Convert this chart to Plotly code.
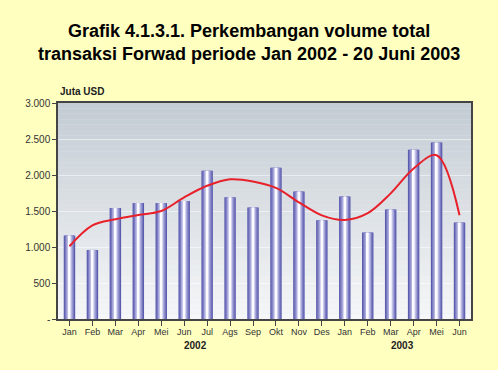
import plotly.graph_objects as go

months = ["Jan", "Feb", "Mar", "Apr", "Mei", "Jun", "Jul", "Ags", "Sep", "Okt", "Nov", "Des",
          "Jan", "Feb", "Mar", "Apr", "Mei", "Jun"]
years = ["2002"] * 12 + ["2003"] * 6
volume = [1160, 960, 1540, 1610, 1610, 1640, 2060, 1690, 1550, 2100, 1770, 1370,
          1700, 1200, 1520, 2350, 2450, 1340]
trend = [1010, 1300, 1385, 1445, 1500, 1690, 1850, 1940, 1910, 1820, 1620, 1440,
         1375, 1470, 1745, 2090, 2275, 1440]
y_ticks = [0, 500, 1000, 1500, 2000, 2500, 3000]
y_ticktext = ["-", "500", "1.000", "1.500", "2.000", "2.500", "3.000"]

x = list(range(len(months)))
FONT = "Liberation Sans, Arial, sans-serif"

fig = go.Figure()

# cylinder-like bars: layered bars of decreasing width
layers = [(0.50, "#5C5CAE"), (0.40, "#7C7CC2"), (0.28, "#A8A8DA"), (0.16, "#D6D6F0"), (0.07, "#FAFAFF")]
for w, c in layers:
    fig.add_trace(go.Bar(x=x, y=volume, width=w, marker=dict(color=c, line=dict(width=0)),
                         hoverinfo="skip", showlegend=False))

fig.add_trace(go.Scatter(x=x, y=trend, mode="lines", line=dict(color="#E8202A", width=2, shape="spline", smoothing=1.0),
                         showlegend=False))

# gradient plot background
n = 40
top = (196, 204, 212)
bot = (246, 247, 248)
shapes = []
for i in range(n):
    t = i / (n - 1)
    r = int(top[0] + (bot[0] - top[0]) * t)
    g = int(top[1] + (bot[1] - top[1]) * t)
    b = int(top[2] + (bot[2] - top[2]) * t)
    shapes.append(dict(type="rect", xref="x domain", yref="y domain", x0=0, x1=1,
                       y0=1 - (i + 1) / n, y1=1 - i / n, fillcolor=f"rgb({r},{g},{b})",
                       line=dict(width=0), layer="below"))

annotations = [
    dict(text="<b>Grafik 4.1.3.1. Perkembangan volume total<br>transaksi Forwad periode Jan 2002 - 20 Juni 2003</b>",
         xref="paper", yref="paper", x=0.4625, y=1, xanchor="center", yanchor="bottom", showarrow=False,
         font=dict(family=FONT, size=18, color="#000000"), yshift=37, align="center"),
    dict(text="<b>Juta USD</b>", xref="paper", yref="paper", x=0, y=1, xanchor="left", yanchor="bottom",
         showarrow=False, font=dict(family=FONT, size=10, color="#222222"), yshift=4),
]
# year labels centered under their groups
for yr in ["2002", "2003"]:
    idx = [i for i, v in enumerate(years) if v == yr]
    annotations.append(dict(text=f"<b>{yr}</b>", x=sum(idx) / len(idx), xref="x", yref="paper", y=0,
                            yanchor="top", showarrow=False, yshift=-19,
                            font=dict(family=FONT, size=10, color="#222222")))

fig.update_layout(
    width=498, height=370,
    margin=dict(l=58, r=27, t=103, b=51),
    paper_bgcolor="#FFFFC0",
    plot_bgcolor="#E2E6EA",
    barmode="overlay",
    bargap=0.5,
    shapes=shapes,
    annotations=annotations,
    xaxis=dict(tickmode="array", tickvals=x, ticktext=months, range=[-0.5, len(x) - 0.5],
               showline=True, linecolor="#444444", linewidth=1.5, mirror=True,
               ticks="outside", tickson="boundaries", ticklen=5, tickcolor="#444444",
               ticklabelstandoff=-2,
               tickfont=dict(family=FONT, size=9, color="#333333"), showgrid=False),
    yaxis=dict(range=[0, 3000], tickvals=y_ticks, ticktext=y_ticktext,
               showline=True, linecolor="#444444", linewidth=1.5, mirror=True,
               ticks="outside", ticklen=4, tickcolor="#444444",
               tickfont=dict(family=FONT, size=10, color="#333333"),
               showgrid=True, gridcolor="rgba(255,255,255,0.5)", gridwidth=1, zeroline=False),
)

fig.write_html("out.html")
